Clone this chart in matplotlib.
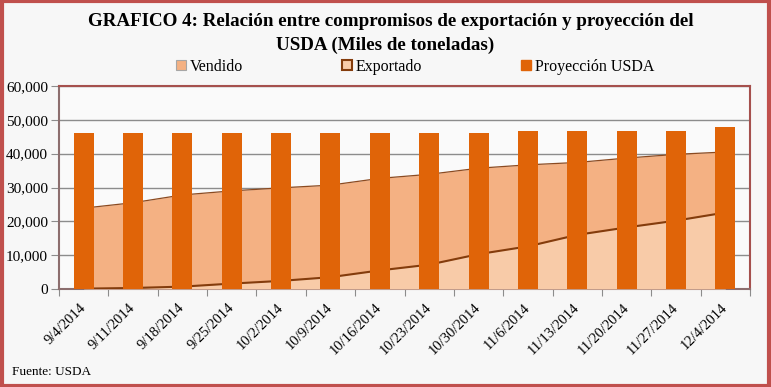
import numpy as np
import matplotlib
matplotlib.use("Agg")
import matplotlib.pyplot as plt
from matplotlib.patches import Patch, Rectangle
from matplotlib.transforms import ScaledTranslation

fechas = ["9/4/2014", "9/11/2014", "9/18/2014", "9/25/2014", "10/2/2014",
          "10/9/2014", "10/16/2014", "10/23/2014", "10/30/2014", "11/6/2014",
          "11/13/2014", "11/20/2014", "11/27/2014", "12/4/2014"]
vendido = [23900, 25500, 27800, 29000, 29900, 30700, 32700,
           33900, 35700, 36700, 37400, 38700, 39800, 40500]
exportado = [100, 300, 700, 1600, 2400, 3500, 5500,
             7200, 10300, 12600, 16000, 18200, 20200, 22600]
proyeccion = [46200, 46200, 46200, 46200, 46200, 46200, 46200,
              46200, 46200, 46700, 46700, 46700, 46700, 47900]

plt.rcParams['font.family'] = ['Liberation Serif', 'DejaVu Serif']

c_bar = '#E06408'
c_vend = '#F4B183'
c_exp = '#F8CBA8'
c_line = '#843C0C'

fig = plt.figure(figsize=(7.71, 3.87), dpi=100, facecolor='#F7F7F7')
ax = fig.add_axes([59/771, 1-289/387, (750-59)/771, (289-86)/387])
ax.set_facecolor('#FAFAFA')

x = np.arange(len(fechas))
ax.fill_between(x, 0, vendido, color=c_vend, zorder=2, linewidth=0)
ax.plot(x, vendido, color='#8B4A20', lw=0.9, zorder=3)
ax.fill_between(x, 0, exportado, color=c_exp, zorder=4, linewidth=0)
ax.plot(x, exportado, color=c_line, lw=1.5, zorder=5)
ax.bar(x, proyeccion, width=0.405, color=c_bar, zorder=6)

ax.set_xlim(-0.5, len(fechas) - 0.5)
ax.set_ylim(0, 60000)
ax.set_yticks(np.arange(0, 60001, 10000))
ax.set_yticklabels(['{:,}'.format(v) for v in range(0, 60001, 10000)], fontsize=11)
ax.yaxis.grid(True, color='#8C8C8C', lw=1)
ax.set_axisbelow(True)

ax.set_xticks(np.arange(-0.5, len(fechas), 1.0))
ax.set_xticklabels([])
ax.set_xticks(x, minor=True)
ax.set_xticklabels(fechas, minor=True, rotation=45, ha='right', va='center',
                   rotation_mode='anchor', fontsize=10.5)
# desplazar un poco las etiquetas hacia la derecha
off = ScaledTranslation(4/100, 0, fig.dpi_scale_trans)
for lbl in ax.get_xticklabels(minor=True):
    lbl.set_transform(lbl.get_transform() + off)
ax.tick_params(axis='x', which='minor', length=0, pad=12)
ax.tick_params(axis='x', which='major', length=5, color='#8C8C8C')
ax.tick_params(axis='y', length=6, color='#8C8C8C', pad=2)

for s in ['top', 'right']:
    ax.spines[s].set_color('#A5504D')
    ax.spines[s].set_linewidth(1.5)
for s in ['left', 'bottom']:
    ax.spines[s].set_color('#8C6E6E')
    ax.spines[s].set_linewidth(1.5)

fig.text(391/771, 1-22/387, 'GRAFICO 4: Relación entre compromisos de exportación y proyección del',
         ha='center', va='center', fontsize=13.7, fontweight='bold')
fig.text(385/771, 1-45/387, 'USDA (Miles de toneladas)',
         ha='center', va='center', fontsize=13.7, fontweight='bold')

handles = [Patch(facecolor=c_vend, edgecolor='#A6A6A6', lw=0.8),
           Patch(facecolor=c_exp, edgecolor=c_line, lw=1.5),
           Patch(facecolor=c_bar, edgecolor=c_bar)]
fig.legend(handles, ['Vendido', 'Exportado', 'Proyección USDA'],
           loc='center', bbox_to_anchor=(415/771, 1-67/387), ncol=3,
           frameon=False, fontsize=11.5, handlelength=0.6, handleheight=0.6,
           handletextpad=0.25, columnspacing=6.2)

fig.text(12/771, 1-372/387, 'Fuente: USDA', ha='left', va='center', fontsize=9.5)

fig.patches.append(Rectangle((0.002, 0.003), 0.996, 0.994, transform=fig.transFigure,
                             fill=False, edgecolor='#C0504D', lw=3))

fig.savefig('out.png', dpi=100, facecolor=fig.get_facecolor())
